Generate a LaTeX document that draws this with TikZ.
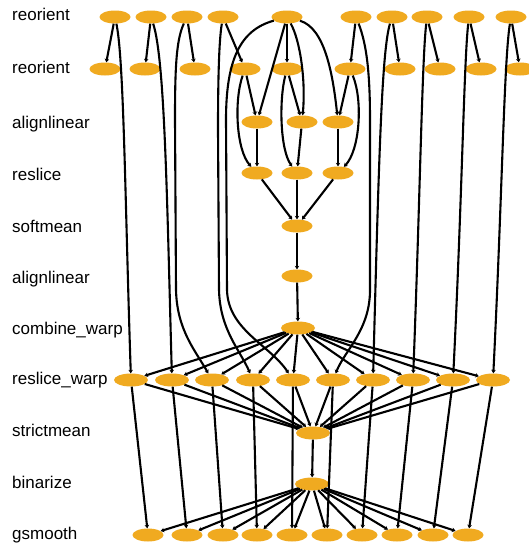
\documentclass[tikz,border=0pt]{standalone}
\usepackage{fontspec}
\setmainfont{Liberation Sans}
\usetikzlibrary{arrows.meta,shapes.geometric}
\definecolor{nodeor}{RGB}{240,170,32}
\begin{document}
\begin{tikzpicture}[x=1pt,y=-1pt,
  nd/.style={ellipse, fill=nodeor, minimum width=31pt, minimum height=13pt, inner sep=0pt},
  wd/.style={nd, minimum width=34pt},
  lbl/.style={anchor=west, font=\fontsize{17}{20}\selectfont, inner sep=0pt, text height=12pt, text depth=3.5pt},
  e/.style={line width=2.1pt, -{Stealth[length=3.5pt,width=4.5pt]}},
]
\useasboundingbox[fill=white] (0,0) rectangle (528,546);
% labels
\node[lbl] (l1) at (12,16) {reorient};
\node[lbl] (l2) at (12,69) {reorient};
\node[lbl] (l3) at (12,124) {alignlinear};
\node[lbl] (l4) at (12,176) {reslice};
\node[lbl] (l5) at (12,228) {softmean};
\node[lbl] (l6) at (12,279) {alignlinear};
\node[lbl] (l7) at (12,330) {combine\_warp};
\node[lbl] (l8) at (12,380) {reslice\_warp};
\node[lbl] (l9) at (12,432) {strictmean};
\node[lbl] (l10) at (12,484) {binarize};
\node[lbl] (l11) at (12,535) {gsmooth};
% row 1
\foreach \x [count=\i] in {115,151,187,223,287,356,392,427,469,511}
  \node[nd] (a\i) at (\x,17) {};
% row 2
\foreach \x [count=\i] in {105,145,195,245,287,350,400,440,481,520}
  \node[nd] (b\i) at (\x,69) {};
% alignlinear / reslice
\node[nd] (c1) at (257,122) {};
\node[nd] (c2) at (302,122) {};
\node[nd] (c3) at (338,122) {};
\node[nd] (d1) at (257,173) {};
\node[nd] (d2) at (297,173) {};
\node[nd] (d3) at (338,173) {};
\node[nd] (e) at (297,226) {};
\node[nd] (f) at (297,276) {};
\node[wd] (g) at (298,328) {};
\foreach \x [count=\i] in {131,172,212,253,293,333,373,413,453,493}
  \node[wd] (h\i) at (\x,380) {};
\node[wd] (i) at (313,433) {};
\node[wd] (j) at (312,484) {};
\foreach \x [count=\i] in {148,187,223,257,292,327,362,397,433,468}
  \node[nd] (k\i) at (\x,535) {};
% edges row1 -> row2
\foreach \i in {1,...,10} \draw[e] (a\i) -- (b\i);
% long edges row1 -> reslice_warp
\draw[e] (a1) .. controls (124,60) and (125,200) .. (h1);
\draw[e] (a2) .. controls (165,60) and (167,200) .. (h2);
\draw[e] (a3) .. controls (176,40) and (175,70) .. (175,120) -- (176,290) .. controls (177,330) and (195,350) .. (h3);
\draw[e] (a4) .. controls (219,40) and (218,80) .. (218,130) -- (219,290) .. controls (220,330) and (240,350) .. (h4);
\draw[e] (a5) .. controls (240,30) and (226,60) .. (226,120) -- (227,290) .. controls (228,330) and (270,345) .. (h5);
\draw[e] (a6) .. controls (367,45) and (370,75) .. (370,120) -- (370,290) .. controls (370,330) and (345,350) .. (h6);
\draw[e] (a7) .. controls (382,50) and (379,150) .. (h7);
\draw[e] (a8) .. controls (422,60) and (420,200) .. (h8);
\draw[e] (a9) .. controls (464,60) and (462,200) .. (h9);
\draw[e] (a10) .. controls (504,60) and (502,200) .. (h10);
% center
\draw[e] (a5) -- (c1);
\draw[e] (a5) .. controls (300,40) and (306,80) .. (c2);
\draw[e] (a5) .. controls (325,28) and (333,75) .. (c3);
\draw[e] (b4) -- (c1);
\draw[e] (b4) .. controls (234,100) and (236,150) .. (d1);
\draw[e] (b5) -- (c2);
\draw[e] (b5) .. controls (279,100) and (280,150) .. (d2);
\draw[e] (b6) -- (c3);
\draw[e] (b6) .. controls (363,100) and (360,150) .. (d3);
\foreach \k in {1,2,3} {
  \draw[e] (c\k) -- (d\k);
  \draw[e] (d\k) -- (e);
}
\draw[e] (e) -- (f);
\draw[e] (f) -- (g);
\foreach \k in {1,...,10} {
  \draw[e] (g) -- (h\k);
  \draw[e] (h\k) -- (i);
  \draw[e] (h\k) -- (k\k);
  \draw[e] (j) -- (k\k);
}
\draw[e] (i) -- (j);
\end{tikzpicture}
\end{document}
